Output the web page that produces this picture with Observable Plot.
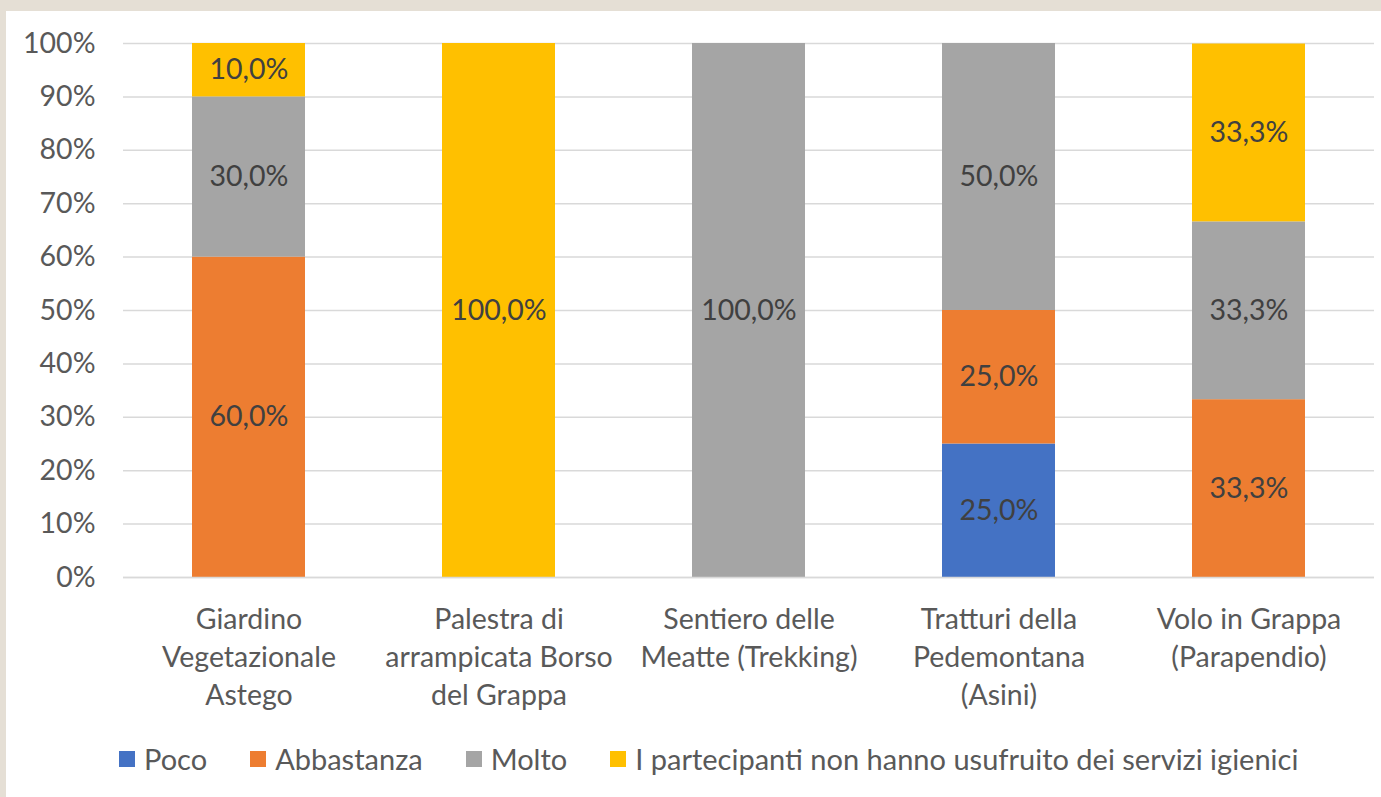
<!DOCTYPE html>
<html>
<head>
<meta charset="utf-8">
<script src="https://cdn.jsdelivr.net/npm/d3@7"></script>
<script src="https://cdn.jsdelivr.net/npm/@observablehq/plot@0.6"></script>
<style>
  html, body { margin: 0; padding: 0; }
  body { background: #e5dfd5; width: 1381px; height: 797px; overflow: hidden; font-family: Lato, "Open Sans", sans-serif; }
  #panel { position: absolute; left: 6px; top: 11px; width: 1375px; height: 786px; background: #fff; }
  #legend { position: absolute; left: 113px; top: 730px; display: flex; gap: 43px; color: #595959; font-size: 29px; white-space: nowrap; }
  .item { display: flex; align-items: center; }
  .sw { width: 16px; height: 16px; margin-right: 9px; }
</style>
</head>
<body>
<div id="panel"><div id="chart"></div><div id="legend"></div></div>
<script>
const categories = [
  "Giardino\nVegetazionale\nAstego",
  "Palestra di\narrampicata Borso\ndel Grappa",
  "Sentiero delle\nMeatte (Trekking)",
  "Tratturi della\nPedemontana\n(Asini)",
  "Volo in Grappa\n(Parapendio)"
];
const seriesNames = ["Poco", "Abbastanza", "Molto", "I partecipanti non hanno usufruito dei servizi igienici"];
const seriesColors = ["#4472c4", "#ed7d31", "#a5a5a5", "#ffc000"];
const poco       = [0, 0, 0, 25, 0];
const abbastanza = [60, 0, 0, 25, 33.3];
const molto      = [30, 0, 100, 50, 33.3];
const nonUsato   = [10, 100, 0, 0, 33.3];
const yTicks = [0, 10, 20, 30, 40, 50, 60, 70, 80, 90, 100];

const seriesValues = [poco, abbastanza, molto, nonUsato];
const data = [];
categories.forEach((c, i) => {
  seriesNames.forEach((s, j) => data.push({category: c, series: s, value: seriesValues[j][i]}));
});
const fmt = v => v.toFixed(1).replace(".", ",") + "%";

const chart = Plot.plot({
  width: 1375,
  height: 712,
  marginLeft: 117,
  marginRight: 7,
  marginTop: 32,
  marginBottom: 146,
  style: {fontFamily: "Lato, 'Open Sans', sans-serif", background: "#fff"},
  x: {domain: categories, paddingInner: 0.548, paddingOuter: 0.274, label: null},
  y: {domain: [0, 100], label: null},
  color: {domain: seriesNames, range: seriesColors},
  marks: [
    Plot.gridY(yTicks, {stroke: "#d9d9d9", strokeOpacity: 1, strokeWidth: 1.5}),
    Plot.axisY(yTicks, {tickSize: 0, tickPadding: 28, tickFormat: d => d + "%", fontSize: 28.5, fill: "#595959", label: null}),
    Plot.barY(data, {x: "category", y: "value", fill: "series", order: null}),
    Plot.text(data, Plot.stackY({x: "category", y: "value", z: "series", order: null, text: d => d.value > 0 ? fmt(d.value) : "", fill: "#404040", fontSize: 28.5})),
    Plot.ruleY([0], {stroke: "#d9d9d9", strokeWidth: 1.5}),
    Plot.axisX({tickSize: 0, tickPadding: 25, fontSize: 28.5, fill: "#595959", lineHeight: 1.33, label: null})
  ]
});
document.getElementById("chart").appendChild(chart);

const legend = document.getElementById("legend");
seriesNames.forEach((s, j) => {
  const it = document.createElement("div");
  it.className = "item";
  const sw = document.createElement("div");
  sw.className = "sw";
  sw.style.background = seriesColors[j];
  const t = document.createElement("span");
  t.textContent = s;
  it.appendChild(sw); it.appendChild(t);
  legend.appendChild(it);
});
</script>
</body>
</html>
